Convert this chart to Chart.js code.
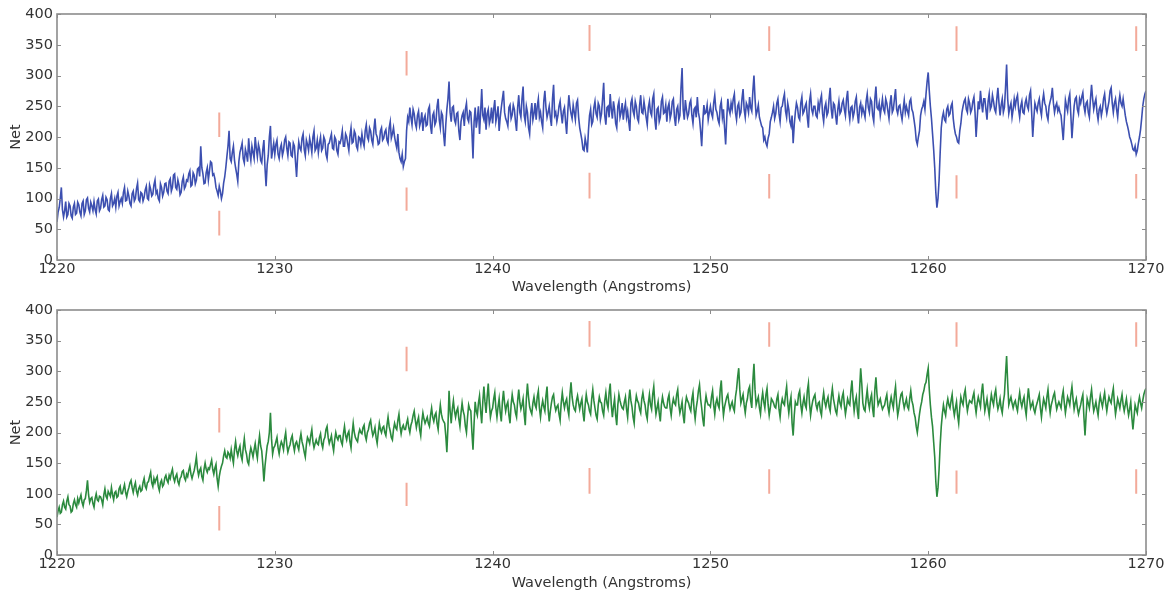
<!DOCTYPE html>
<html><head><meta charset="utf-8">
<script src="https://cdn.jsdelivr.net/npm/chart.js@4.4.0/dist/chart.umd.min.js"></script>
<style>
html,body{margin:0;padding:0;background:#fff;}
#wrap{position:relative;width:1173px;height:592px;}
.box{position:absolute;left:0;width:1173px;height:296px;}
</style></head><body>
<div id="wrap">
<div class="box" style="top:0"><canvas id="c1" width="1173" height="296"></canvas></div>
<div class="box" style="top:296px"><canvas id="c2" width="1173" height="296"></canvas></div>
</div>
<script>
// wavelength grid of the sampled spectra: main samples at 1220.0, 1220.1, ...
// half samples at 1220.05, 1220.15, ...
const waveStart = 1220, waveStep = 0.1;
const xTicks = [1220, 1230, 1240, 1250, 1260, 1270];
const yTicks = [0, 50, 100, 150, 200, 250, 300, 350, 400];

// top panel (blue) net counts, one row per Angstrom
const netTop = [
62, 85, 118, 70, 95, 74, 88, 68, 92, 76,
90, 72, 96, 80, 101, 78, 88, 95, 75, 99,
84, 105, 88, 98, 80, 108, 92, 86, 110, 95,
92, 118, 97, 104, 88, 112, 100, 125, 95, 108,
102, 120, 98, 115, 107, 130, 112, 96, 118, 110,
125, 108, 132, 118, 140, 115, 122, 110, 135, 120,
128, 145, 122, 138, 130, 150, 185, 140, 125, 150,
145, 158, 140, 118, 105, 112, 108, 135, 168, 210,
160, 185, 150, 128, 175, 190, 158, 172, 198, 162,
175, 200, 168, 180, 158, 195, 120, 170, 218, 178,
172, 195, 165, 188, 178, 200, 170, 190, 168, 185,
135, 192, 178, 205, 170, 188, 198, 175, 210, 182,
175, 200, 182, 195, 165, 190, 205, 180, 196, 172,
190, 210, 185, 200, 178, 215, 192, 205, 180, 198,
205, 185, 220, 195, 210, 188, 230, 200, 190, 215,
198, 212, 190, 225, 205, 200, 182, 175, 160, 152,
165, 232, 248, 220, 238, 215, 242, 225, 210, 235,
220, 250, 205, 240, 225, 262, 215, 235, 185, 245,
290, 225, 250, 222, 240, 195, 235, 218, 255, 225,
240, 165, 248, 230, 205, 278, 228, 212, 245, 230,
222, 260, 235, 210, 248, 275, 230, 218, 252, 236,
245, 210, 268, 232, 282, 225, 240, 205, 255, 238,
228, 262, 240, 215, 275, 232, 250, 218, 285, 240,
235, 258, 222, 248, 205, 268, 238, 252, 228, 260,
215, 195, 178, 188, 210, 245, 225, 258, 232, 250,
238, 288, 220, 250, 270, 230, 245, 215, 258, 240,
228, 255, 242, 210, 262, 235, 250, 225, 268, 238,
245, 220, 258, 235, 270, 212, 248, 232, 265, 240,
225, 255, 238, 262, 218, 250, 235, 312, 228, 245,
238, 260, 222, 248, 265, 230, 185, 252, 240, 228,
250, 232, 268, 240, 222, 258, 245, 188, 262, 238,
245, 270, 228, 255, 240, 278, 232, 250, 265, 242,
300, 235, 252, 225, 215, 200, 185, 205, 232, 250,
238, 262, 225, 250, 270, 232, 245, 218, 190, 240,
248, 228, 265, 242, 255, 215, 270, 238, 250, 232,
245, 268, 225, 255, 240, 280, 230, 252, 220, 258,
242, 260, 235, 275, 228, 250, 240, 265, 222, 255,
248, 232, 270, 240, 258, 225, 282, 245, 235, 262,
240, 255, 230, 268, 245, 278, 238, 252, 228, 260,
250, 235, 262, 240, 215, 188, 210, 245, 258, 270,
305, 250, 205, 150, 85, 130, 215, 240, 225, 250,
238, 255, 215, 200, 190, 222, 250, 262, 240, 255,
245, 265, 200, 258, 275, 240, 262, 228, 270, 250,
258, 240, 280, 235, 262, 248, 318, 238, 255, 245,
250, 268, 232, 258, 238, 262, 245, 275, 200, 255,
242, 262, 235, 270, 250, 228, 258, 280, 240, 255,
248, 235, 195, 260, 242, 270, 198, 250, 265, 238,
255, 272, 240, 258, 232, 285, 245, 262, 228, 250,
245, 270, 238, 258, 280, 240, 262, 232, 268, 250,
248, 225, 210, 195, 180, 185, 178, 200, 230, 262,
275
];
// top panel half-step samples
const netTopHalf = [
78, 100, 82, 80, 70, 92, 72, 86, 74, 94,
78, 92, 74, 98, 84, 94, 80, 82, 96, 80,
98, 86, 102, 82, 100, 88, 100, 104, 88, 100,
110, 96, 112, 92, 108, 96, 116, 98, 110, 96,
114, 100, 122, 104, 122, 108, 100, 124, 104, 124,
112, 128, 112, 138, 118, 130, 106, 128, 116, 130,
140, 120, 142, 124, 148, 136, 150, 124, 142, 130,
160, 138, 132, 112, 120, 100, 125, 150, 185, 165,
175, 162, 140, 160, 182, 165, 180, 160, 175, 185,
165, 182, 188, 162, 180, 150, 155, 200, 165, 190,
188, 172, 182, 170, 195, 182, 192, 170, 190, 160,
170, 182, 198, 180, 195, 178, 188, 200, 178, 195,
190, 178, 200, 172, 188, 198, 182, 200, 178, 192,
198, 185, 205, 188, 202, 190, 210, 185, 200, 188,
192, 210, 200, 215, 195, 212, 205, 188, 210, 195,
208, 195, 215, 198, 215, 190, 205, 165, 172, 160,
210, 225, 232, 245, 222, 235, 218, 240, 230, 218,
245, 218, 235, 220, 250, 228, 240, 205, 220, 262,
240, 248, 228, 238, 210, 225, 240, 245, 230, 242,
210, 225, 215, 250, 240, 235, 248, 238, 222, 248,
245, 225, 250, 232, 262, 240, 225, 248, 230, 252,
225, 248, 240, 262, 235, 250, 215, 238, 228, 255,
250, 232, 225, 258, 248, 240, 232, 262, 235, 225,
250, 238, 242, 225, 240, 250, 230, 240, 255, 232,
205, 180, 198, 175, 235, 220, 248, 238, 255, 228,
262, 235, 248, 232, 245, 258, 222, 250, 232, 255,
245, 232, 225, 255, 242, 258, 230, 252, 240, 258,
232, 248, 240, 262, 228, 245, 225, 258, 238, 252,
248, 230, 258, 232, 245, 228, 280, 245, 260, 232,
255, 235, 245, 232, 240, 210, 225, 238, 252, 240,
238, 255, 245, 228, 250, 232, 215, 230, 245, 255,
262, 240, 250, 235, 262, 245, 255, 240, 248, 275,
262, 242, 232, 218, 195, 190, 198, 225, 240, 230,
255, 238, 248, 262, 242, 255, 225, 235, 220, 255,
232, 255, 238, 250, 232, 258, 245, 250, 235, 255,
260, 238, 248, 235, 262, 245, 255, 235, 245, 238,
255, 245, 262, 242, 248, 232, 258, 238, 248, 238,
240, 258, 248, 262, 235, 262, 248, 255, 248, 245,
262, 242, 255, 240, 262, 245, 250, 238, 245, 240,
242, 258, 245, 228, 195, 200, 235, 250, 245, 290,
275, 230, 180, 110, 100, 175, 232, 228, 245, 235,
250, 230, 205, 192, 210, 240, 258, 245, 262, 240,
258, 240, 230, 245, 255, 262, 245, 258, 245, 268,
245, 262, 255, 252, 240, 280, 262, 248, 232, 262,
262, 245, 250, 240, 255, 250, 268, 240, 230, 248,
255, 245, 258, 255, 235, 250, 265, 255, 250, 242,
240, 215, 228, 250, 262, 235, 225, 262, 245, 262,
265, 250, 255, 240, 262, 262, 255, 240, 245, 235,
262, 250, 248, 275, 255, 255, 245, 255, 255, 262,
235, 218, 200, 188, 178, 172, 190, 212, 250, 270
];

// bottom panel (green) net counts
const netBottom = [
62, 78, 70, 88, 75, 95, 80, 72, 90, 78,
85, 98, 80, 92, 122, 86, 94, 78, 100, 88,
95, 82, 108, 92, 100, 110, 90, 104, 96, 112,
100, 115, 95, 110, 122, 102, 118, 98, 112, 106,
125, 108, 120, 135, 112, 118, 128, 105, 122, 115,
130, 118, 125, 140, 120, 132, 115, 128, 138, 122,
128, 145, 125, 138, 160, 130, 142, 122, 150, 135,
140, 155, 132, 148, 112, 138, 150, 170, 158, 165,
172, 150, 185, 162, 178, 155, 190, 165, 148, 175,
160, 182, 158, 195, 170, 120, 162, 185, 232, 165,
178, 192, 165, 185, 172, 200, 168, 180, 195, 170,
185, 172, 198, 178, 160, 192, 182, 205, 175, 188,
180, 198, 175, 192, 210, 182, 195, 170, 200, 188,
195, 180, 210, 188, 202, 175, 215, 192, 185, 205,
198, 212, 188, 205, 220, 195, 208, 182, 215, 200,
210, 195, 225, 202, 188, 215, 205, 230, 198, 212,
205, 222, 200, 218, 235, 208, 225, 195, 232, 215,
225, 210, 240, 218, 232, 205, 245, 222, 215, 168,
268, 215, 252, 225, 240, 210, 248, 228, 200, 245,
235, 172, 250, 228, 260, 215, 275, 232, 280, 225,
240, 265, 225, 255, 218, 268, 235, 250, 215, 262,
245, 225, 270, 238, 255, 212, 280, 242, 230, 258,
240, 268, 225, 252, 235, 275, 218, 248, 262, 236,
245, 220, 265, 240, 255, 228, 282, 245, 235, 260,
238, 255, 218, 262, 245, 230, 270, 240, 222, 258,
248, 228, 265, 240, 280, 225, 255, 212, 262, 245,
238, 258, 225, 270, 242, 215, 260, 248, 232, 265,
245, 222, 262, 238, 275, 230, 250, 218, 258, 242,
240, 262, 228, 255, 245, 270, 232, 250, 215, 258,
248, 235, 265, 222, 252, 278, 240, 210, 260, 245,
242, 268, 230, 255, 240, 285, 228, 250, 262, 238,
250, 235, 270, 305, 248, 262, 232, 255, 275, 240,
312, 245, 258, 230, 265, 240, 272, 228, 255, 248,
240, 262, 225, 255, 245, 275, 232, 258, 195, 250,
245, 268, 232, 258, 240, 280, 228, 252, 262, 238,
250, 228, 265, 242, 258, 235, 272, 245, 230, 260,
242, 265, 230, 255, 245, 285, 235, 258, 222, 305,
248, 235, 270, 240, 262, 225, 290, 245, 255, 238,
245, 262, 232, 258, 240, 275, 228, 252, 265, 240,
255, 238, 268, 245, 225, 200, 230, 250, 268, 282,
305, 245, 210, 160, 95, 140, 210, 245, 228, 255,
240, 262, 228, 250, 215, 258, 245, 270, 235, 252,
248, 265, 232, 258, 242, 280, 235, 255, 228, 262,
245, 270, 238, 255, 232, 262, 325, 245, 258, 240,
252, 235, 265, 242, 258, 228, 272, 240, 250, 232,
248, 262, 225, 255, 240, 270, 232, 252, 265, 238,
250, 240, 268, 232, 258, 245, 275, 238, 255, 230,
245, 262, 195, 255, 240, 270, 235, 250, 228, 260,
242, 265, 235, 258, 248, 272, 230, 255, 240, 262,
235, 255, 228, 250, 205, 245, 232, 258, 240, 262,
272
];
// bottom panel half-step samples
const netBottomHalf = [
72, 68, 82, 78, 88, 82, 70, 84, 82, 92,
92, 86, 90, 105, 98, 92, 84, 92, 90, 96,
90, 98, 96, 104, 96, 98, 102, 94, 108, 100,
108, 102, 104, 118, 110, 112, 104, 108, 104, 118,
112, 118, 128, 118, 125, 124, 112, 118, 112, 126,
122, 130, 134, 126, 128, 120, 125, 136, 126, 132,
138, 132, 132, 148, 140, 138, 128, 140, 140, 142,
148, 140, 142, 125, 128, 145, 162, 160, 168, 158,
160, 172, 170, 172, 162, 175, 172, 152, 165, 168,
172, 168, 180, 178, 148, 145, 178, 200, 190, 175,
185, 175, 178, 180, 190, 180, 175, 190, 180, 182,
178, 188, 185, 168, 180, 188, 195, 185, 182, 182,
192, 182, 188, 205, 192, 188, 180, 188, 192, 195,
185, 198, 195, 198, 185, 198, 200, 188, 198, 200,
208, 195, 200, 215, 205, 200, 192, 200, 205, 208,
200, 212, 210, 192, 205, 208, 220, 210, 208, 205,
215, 208, 212, 228, 220, 218, 205, 218, 222, 220,
215, 228, 225, 228, 215, 228, 230, 218, 195, 210,
235, 238, 235, 235, 222, 232, 235, 210, 225, 238,
200, 215, 235, 248, 235, 250, 250, 258, 248, 235,
255, 240, 242, 232, 250, 248, 245, 228, 245, 250,
232, 252, 250, 245, 230, 255, 258, 235, 248, 245,
258, 240, 242, 242, 260, 238, 235, 258, 245, 242,
230, 248, 250, 250, 238, 262, 258, 238, 252, 248,
248, 232, 245, 250, 235, 255, 252, 228, 245, 250,
235, 252, 248, 265, 245, 242, 228, 245, 252, 240,
250, 238, 252, 252, 225, 245, 252, 238, 255, 252,
230, 248, 245, 262, 248, 240, 232, 245, 248, 240,
255, 240, 245, 248, 262, 245, 240, 228, 245, 252,
240, 255, 238, 240, 268, 255, 222, 245, 250, 245,
258, 245, 248, 245, 270, 250, 242, 258, 248, 245,
240, 258, 290, 270, 255, 245, 248, 270, 252, 285,
270, 252, 240, 252, 250, 262, 245, 240, 252, 242,
255, 238, 245, 248, 262, 248, 248, 215, 228, 245,
262, 245, 248, 245, 268, 248, 242, 258, 245, 248,
235, 252, 250, 252, 242, 258, 255, 235, 248, 248,
258, 245, 242, 248, 268, 255, 250, 235, 270, 280,
238, 255, 250, 255, 238, 270, 262, 250, 245, 242,
255, 242, 248, 248, 262, 248, 238, 262, 250, 248,
242, 255, 252, 232, 210, 215, 242, 262, 278, 295,
270, 225, 185, 120, 110, 180, 230, 235, 245, 245,
252, 240, 240, 228, 240, 250, 262, 250, 245, 250,
258, 245, 248, 250, 265, 255, 245, 240, 248, 252,
262, 250, 245, 240, 250, 295, 280, 252, 248, 248,
242, 252, 250, 252, 240, 252, 255, 245, 238, 242,
255, 240, 242, 248, 258, 248, 245, 260, 250, 245,
245, 258, 248, 245, 252, 262, 255, 248, 240, 238,
255, 225, 228, 248, 258, 250, 242, 238, 248, 250,
255, 248, 248, 252, 262, 248, 242, 248, 252, 245,
245, 240, 238, 225, 225, 238, 248, 248, 252, 268
];

// line-identification markers (wavelength, lower and upper dash extents)
const markerWaves = [1227.45, 1236.05, 1244.45, 1252.7, 1261.3, 1269.55];
const markerLowFrom = [40, 80, 100, 100, 100, 100];
const markerLowTo = [80, 118, 142, 140, 138, 140];
const markerHighFrom = [200, 300, 340, 340, 340, 340];
const markerHighTo = [240, 340, 382, 380, 380, 380];

function toPoints(main, half) {
  const pts = [];
  main.forEach((v, i) => {
    pts.push({ x: +(waveStart + i * waveStep).toFixed(2), y: v });
    if (i < half.length) pts.push({ x: +(waveStart + (i + 0.5) * waveStep).toFixed(3), y: half[i] });
  });
  return pts;
}
function markerPoints() {
  const pts = [];
  markerWaves.forEach((w, i) => {
    pts.push({ x: w, y: markerLowFrom[i] }, { x: w, y: markerLowTo[i] }, { x: w, y: null },
             { x: w, y: markerHighFrom[i] }, { x: w, y: markerHighTo[i] }, { x: w, y: null });
  });
  return pts;
}

const FONT = { family: 'DejaVu Sans', size: 14.5 };
const TXT = '#333333';

const framePlugin = {
  id: 'frame',
  afterDatasetsDraw(chart) {
    const { ctx, chartArea: a, scales: { x, y } } = chart;
    ctx.save();
    ctx.strokeStyle = '#8c8c8c';
    ctx.lineWidth = 1;
    ctx.beginPath();
    xTicks.forEach(v => {
      const px = Math.round(x.getPixelForValue(v)) + 0.5;
      ctx.moveTo(px, a.top); ctx.lineTo(px, a.top + 4);
      ctx.moveTo(px, a.bottom); ctx.lineTo(px, a.bottom - 4);
    });
    yTicks.forEach(v => {
      const py = Math.round(y.getPixelForValue(v)) + 0.5;
      ctx.moveTo(a.left, py); ctx.lineTo(a.left + 4, py);
      ctx.moveTo(a.right, py); ctx.lineTo(a.right - 4, py);
    });
    ctx.stroke();
    ctx.lineWidth = 1.6;
    ctx.strokeRect(a.left, a.top, a.right - a.left, a.bottom - a.top);
    ctx.restore();
  }
};

function makeChart(id, values, half, color, xAxisHeight) {
  return new Chart(document.getElementById(id), {
    type: 'line',
    data: {
      datasets: [
        { data: markerPoints(), borderColor: 'rgba(236,125,100,0.65)', borderWidth: 2,
          pointRadius: 0, spanGaps: false, tension: 0, order: 2 },
        { data: toPoints(values, half), borderColor: color, borderWidth: 1.6, pointRadius: 0,
          tension: 0, fill: false, order: 1 }
      ]
    },
    options: {
      responsive: false,
      animation: false,
      layout: { padding: { top: 14, right: 27, left: 0, bottom: 0 } },
      plugins: { legend: { display: false }, tooltip: { enabled: false } },
      scales: {
        x: {
          type: 'linear', min: 1220, max: 1270,
          afterBuildTicks: s => { s.ticks = xTicks.map(v => ({ value: v })); },
          ticks: { color: TXT, font: FONT, padding: 1, maxRotation: 0, autoSkip: false,
                   callback: v => String(v) },
          grid: { display: false, drawTicks: false },
          border: { display: false },
          title: { display: true, text: 'Wavelength (Angstroms)', color: TXT, font: FONT,
                   padding: { top: 0, bottom: 0 } },
          afterFit: s => { s.height = xAxisHeight; }
        },
        y: {
          min: 0, max: 400,
          afterBuildTicks: s => { s.ticks = yTicks.map(v => ({ value: v })); },
          ticks: { color: TXT, font: FONT, padding: 4, callback: v => String(v) },
          grid: { display: false, drawTicks: false },
          border: { display: false },
          title: { display: true, text: 'Net', color: TXT, font: FONT,
                   padding: { top: 8, bottom: 0 } },
          afterFit: s => { s.width = 57; }
        }
      }
    },
    plugins: [framePlugin]
  });
}

makeChart('c1', netTop, netTopHalf, '#3c4fb0', 36);
makeChart('c2', netBottom, netBottomHalf, '#2b8a3e', 37);
</script>
</body></html>
